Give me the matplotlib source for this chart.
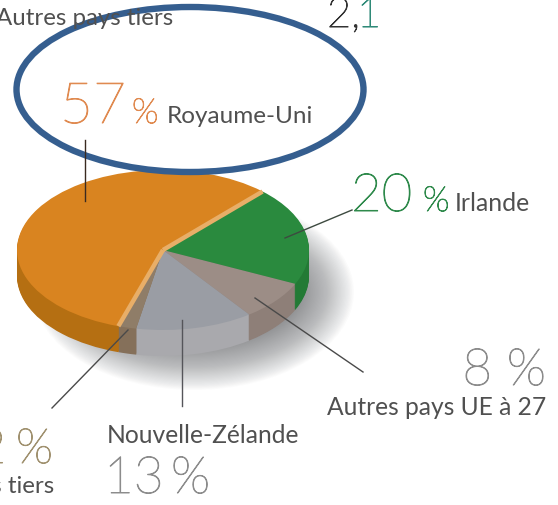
import matplotlib
matplotlib.use("Agg")
import matplotlib.pyplot as plt
import matplotlib.patheffects as pe
from matplotlib.patches import Ellipse
import numpy as np

plt.rcParams['font.family'] = ['Lato', 'DejaVu Sans']

W, H = 558, 505

# Values, clockwise from the orange/green border
labels = ["Irlande", "Autres pays UE à 27", "Nouvelle-Zélande", "Autres pays tiers", "Royaume-Uni"]
values = [20, 8, 13, 2, 57]
top_colors = ["#2A8A3E", "#9C8D86", "#9A9DA4", "#8F7D68", "#D98420"]
side_colors = ["#237A35", "#8E7F78", "#A9A9AD", "#85705A", "#B56F12"]

fig = plt.figure(figsize=(W / 100, H / 100), dpi=100, facecolor='white')


def px_axes(zorder):
    a = fig.add_axes([0, 0, 1, 1], zorder=zorder)
    a.set_xlim(0, W)
    a.set_ylim(H, 0)
    a.axis('off')
    a.patch.set_alpha(0)
    return a


# ---------- SHADOW ----------
back = px_axes(0)
for i in range(60):
    back.add_patch(Ellipse((194, 292), 2 * (160 - i * 1.3), 2 * (98 - i * 1.1),
                           facecolor='#55585c', edgecolor='none', alpha=0.018))

# ---------- PIE ----------
cx, cy, rx, ry = 163, 250, 146, 80
depth = 26
x_lim = 1.25
y_top, y_bot = 1.25, -1.7
ax = fig.add_axes([(cx - x_lim * rx) / W, 1 - (cy - y_bot * ry) / H,
                   2 * x_lim * rx / W, (y_top - y_bot) * ry / H], zorder=1)

for d in range(depth, 0, -1):
    ax.pie(values, colors=side_colors, startangle=47, counterclock=False,
           center=(0, -d / ry), wedgeprops={'linewidth': 0})
ax.pie(values, colors=top_colors, startangle=47, counterclock=False,
       wedgeprops={'linewidth': 0})
ax.set_aspect('auto')
ax.set_xlim(-x_lim, x_lim)
ax.set_ylim(y_bot, y_top)

# light border on both radii of the biggest slice
edges = 47 - np.cumsum(values) / 100 * 360
for ang in [edges[3], 47]:
    t = np.radians(ang)
    ax.plot([0, np.cos(t)], [0, np.sin(t)], color='#E8AE68', lw=3.2,
            solid_capstyle='butt')

# ---------- TEXT AND LEADERS ----------
top = px_axes(2)
dark = '#505050'
grey = '#8c8c8c'
orange = '#E08A50'
green = '#2F8A4C'


def num(x, y, s, size, color, ha='left'):
    # big thin figures, slightly thickened so they don't wash out
    t = top.text(x, y, s, fontsize=size, color=color, ha=ha, va='baseline',
                 fontweight='light', clip_on=False)
    t.set_path_effects([pe.withStroke(linewidth=0.7, foreground=color)])


def label(x, y, s, size, ha='left'):
    top.text(x, y, s, fontsize=size, color=dark, ha=ha, va='baseline', clip_on=False)


label(173, 25, "Autres pays tiers", 17.3, ha='right')
num(327, 27, "2,", 30, '#333333')
num(357, 27, "1", 30, '#2f8a78')

num(60, 123, "57", 41, orange)
num(132, 123, "%", 25, orange)
label(167, 123, "Royaume-Uni", 17.5)

num(351, 211, "20", 38, green)
num(423, 211, "%", 25, green)
label(455, 211, "Irlande", 17.8)

num(546, 385, "8 %", 37, grey, ha='right')
label(546, 415, "Autres pays UE à 27", 17.7, ha='right')

label(107, 443, "Nouvelle-Zélande", 17.7)
num(104, 493, "13", 37, grey)
num(171, 493, "%", 37, grey)

num(6, 463, "2", 35, '#A0916F', ha='right')
num(16, 463, "%", 35, '#A0916F')
label(54, 493, "Autres pays tiers", 17.3, ha='right')

leaders = [
    ((85, 140), (85, 201), '#3a2a20'),
    ((352, 210), (285, 238), '#3d4a40'),
    ((363, 372), (255, 298), '#4a4a4a'),
    ((182, 320), (182, 406), '#55555a'),
    ((128, 330), (52, 408), '#4a4a4a'),
]
for a, b, c in leaders:
    top.plot([a[0], b[0]], [a[1], b[1]], color=c, lw=1.0)

top.add_patch(Ellipse((190, 89.5), 347, 165, facecolor='none',
                      edgecolor='#355E8F', lw=4.6))

fig.savefig("out.png", dpi=100)
